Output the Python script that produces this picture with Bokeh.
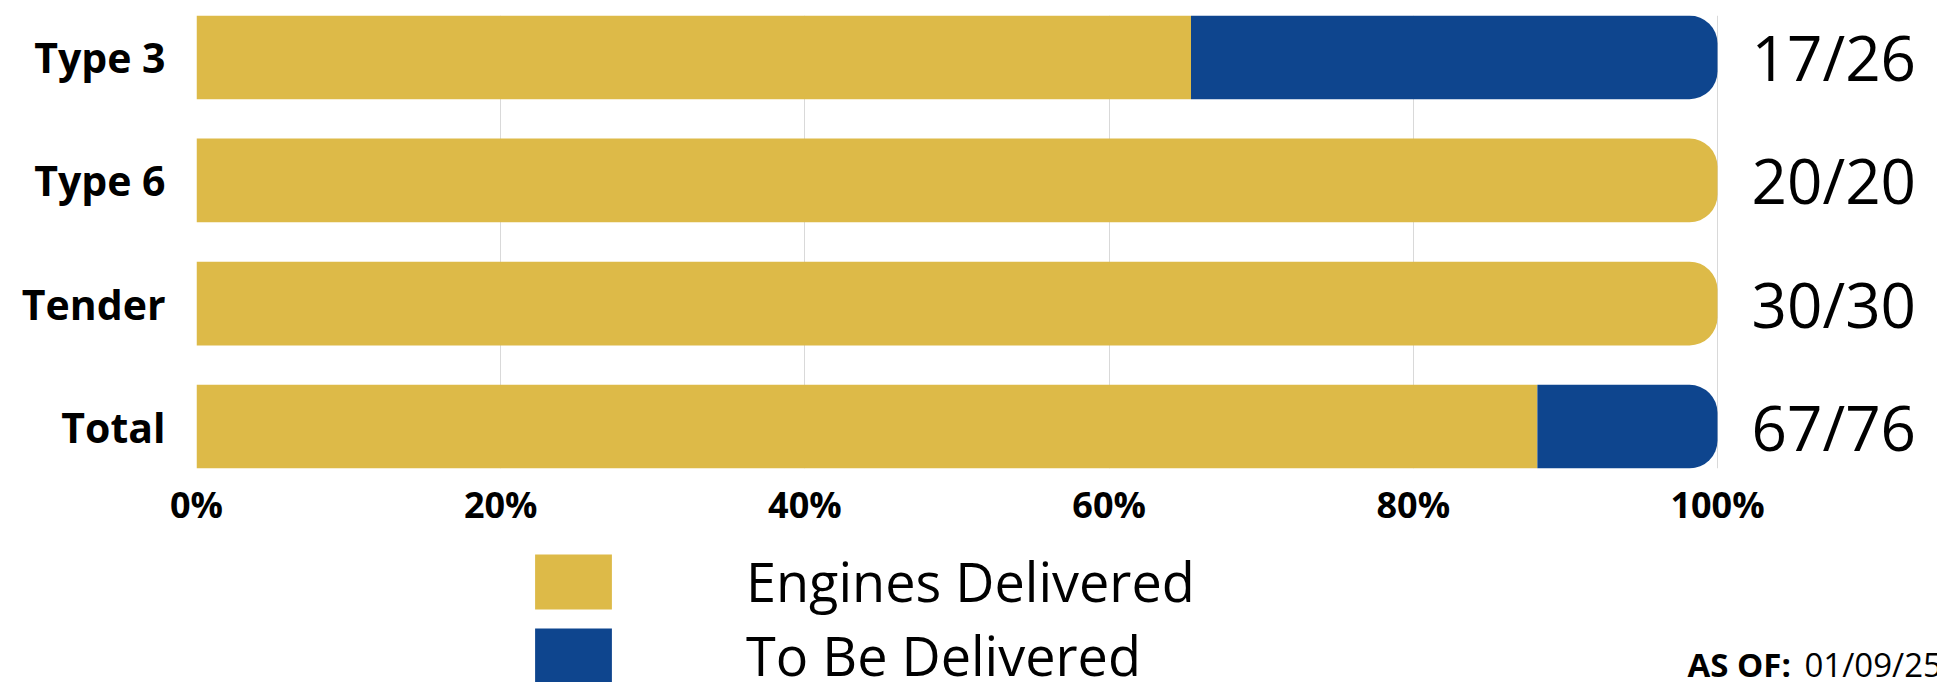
from bokeh.plotting import figure
from bokeh.layouts import column
from bokeh.core.properties import value
from bokeh.models import (ColumnDataSource, FactorRange, Range1d, FixedTicker,
                          PrintfTickFormatter, LabelSet, Label, Legend, LegendItem)
from bokeh.embed import file_html
from bokeh.resources import INLINE

# ---- data ----
categories = ["Type 3", "Type 6", "Tender", "Total"]
delivered = [17, 20, 30, 67]
totals = [26, 20, 30, 76]
x_ticks = [0, 20, 40, 60, 80, 100]
series_names = ["Engines Delivered", "To Be Delivered"]
as_of_label = "AS OF:"
as_of_date = "01/09/25"

YELLOW = "#DDBA48"
BLUE = "#0E458E"
FONT = "Open Sans"

pct_done = [100.0 * d / t for d, t in zip(delivered, totals)]
pct_full = [100.0 * t / t for t in totals]
ratios = [f"{d}/{t}" for d, t in zip(delivered, totals)]

def subset(mask):
    return ColumnDataSource(dict(
        cat=[c for c, m in zip(categories, mask) if m],
        left=[0.0 for m in mask if m],
        done=[p for p, m in zip(pct_done, mask) if m],
        full=[f for f, m in zip(pct_full, mask) if m],
    ))

complete_mask = [d == t for d, t in zip(delivered, totals)]
partial_mask = [not m for m in complete_mask]

src_complete = subset(complete_mask)
src_partial = subset(partial_mask)

W = 1937
FRAME_TOP = 15
FRAME_BOTTOM = 469
AXIS_PANEL = 62
TOP_H = FRAME_BOTTOM + AXIS_PANEL
BOT_H = 682 - TOP_H
FRAME_LEFT = 196
FRAME_W_100 = 1521  # pixels for 0..100 %
x_end = 100.0 * (W - FRAME_LEFT) / FRAME_W_100

p = figure(
    width=W, height=TOP_H,
    y_range=FactorRange(factors=list(reversed(categories)),
                        range_padding=-0.16, range_padding_units="absolute"),
    x_range=Range1d(0, x_end),
    output_backend="svg", toolbar_location=None,
    min_border_left=FRAME_LEFT, min_border_right=0,
    min_border_top=FRAME_TOP, min_border_bottom=AXIS_PANEL,
)
p.outline_line_color = None
p.background_fill_color = "white"
p.border_fill_color = "white"

BAR_H = 0.68
R = 28

r_full = p.hbar(y="cat", left="left", right="done", height=BAR_H, source=src_complete,
                fill_color=YELLOW, line_color=None, border_radius=(0, R, R, 0))
r_done = p.hbar(y="cat", left="left", right="done", height=BAR_H, source=src_partial,
                fill_color=YELLOW, line_color=None)
r_rest = p.hbar(y="cat", left="done", right="full", height=BAR_H, source=src_partial,
                fill_color=BLUE, line_color=None, border_radius=(0, R, R, 0))

# ratio labels at right
lab_src = ColumnDataSource(dict(cat=categories, x=pct_full, text=ratios))
p.add_layout(LabelSet(x="x", y="cat", text="text", source=lab_src,
                      x_offset=34, text_baseline="middle", text_align="left",
                      text_font=value(FONT), text_font_size="62px", text_color="black"))

# axes
p.xaxis.ticker = FixedTicker(ticks=x_ticks)
p.xaxis.formatter = PrintfTickFormatter(format="%d%%")
p.xaxis.axis_line_color = None
p.xaxis.major_tick_line_color = None
p.xaxis.minor_tick_line_color = None
p.xaxis.major_tick_out = 0
p.xaxis.minor_tick_out = 0
p.xaxis.major_label_text_font = FONT
p.xaxis.major_label_text_font_style = "bold"
p.xaxis.major_label_text_font_size = "36px"
p.xaxis.major_label_text_color = "black"
p.xaxis.major_label_standoff = 11

p.yaxis.axis_line_color = None
p.yaxis.major_tick_line_color = None
p.yaxis.minor_tick_line_color = None
p.yaxis.major_tick_out = 0
p.yaxis.minor_tick_out = 0
p.yaxis.major_label_text_font = FONT
p.yaxis.major_label_text_font_style = "bold"
p.yaxis.major_label_text_font_size = "41px"
p.yaxis.major_label_text_color = "black"
p.yaxis.major_label_standoff = 31

p.xgrid.grid_line_color = "#D9D9D9"
p.xgrid.grid_line_width = 1
p.ygrid.grid_line_color = None

# ---- bottom strip: legend and date ----
q = figure(
    width=W, height=BOT_H, x_range=Range1d(0, 1), y_range=Range1d(0, 1),
    output_backend="svg", toolbar_location=None,
    x_axis_location=None, y_axis_location=None,
    min_border=0, min_border_left=0, min_border_right=0,
    min_border_top=0, min_border_bottom=0,
)
q.outline_line_color = None
q.grid.visible = False
q.background_fill_color = "white"
q.border_fill_color = "white"

# zero-length proxies that only supply the legend swatches
proxy = ColumnDataSource(dict(y=[0.0], left=[0.0], right=[0.0]))
k_yel = q.hbar(y="y", left="left", right="right", height=0.0, source=proxy,
               fill_color=YELLOW, line_color=None)
k_blu = q.hbar(y="y", left="left", right="right", height=0.0, source=proxy,
               fill_color=BLUE, line_color=None)

legend = Legend(
    items=[LegendItem(label=series_names[0], renderers=[k_yel]),
           LegendItem(label=series_names[1], renderers=[k_blu])],
    location=(525 - FRAME_LEFT, -10), orientation="vertical",
    glyph_width=96, glyph_height=69, label_standoff=125, spacing=0,
    padding=0, margin=0, border_line_color=None, background_fill_alpha=0,
    label_text_font=FONT, label_text_font_size="54px", label_height=55,
    label_text_color="black",
)
q.add_layout(legend)

q.add_layout(Label(x=1687 - FRAME_LEFT, y=-4, x_units="screen", y_units="screen",
                   text=as_of_label, text_font=FONT, text_font_style="bold",
                   text_font_size="33px", text_color="black"))
q.add_layout(Label(x=1804 - FRAME_LEFT, y=-4, x_units="screen", y_units="screen",
                   text=as_of_date, text_font=FONT,
                   text_font_size="33px", text_color="black"))

layout = column(p, q, spacing=0)
open("out.html", "w").write(file_html(layout, INLINE))
